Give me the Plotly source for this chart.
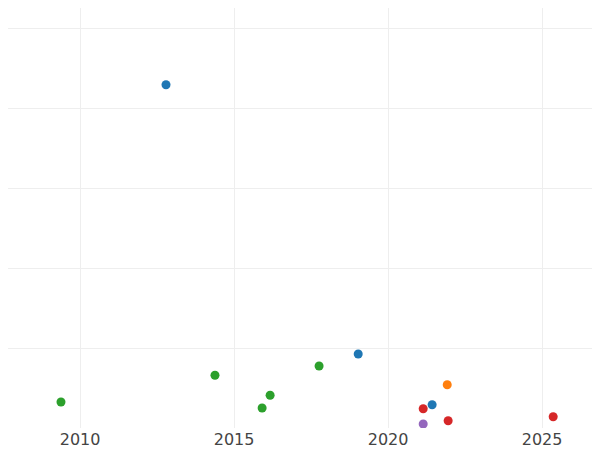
import plotly.graph_objects as go

series_names = ["A", "B", "C", "D", "E"]
colors = ["#1f77b4", "#ff7f0e", "#2ca02c", "#d62728", "#9467bd"]
xs = [
    [2012.79, 2019.03, 2021.43],
    [2021.92],
    [2009.38, 2014.38, 2015.91, 2016.17, 2017.76],
    [2021.14, 2021.95, 2025.36],
    [2021.14],
]
ys = [
    [4.29, 0.925, 0.29],
    [0.54],
    [0.325, 0.66, 0.25, 0.41, 0.775],
    [0.24, 0.09, 0.14],
    [0.05],
]

fig = go.Figure()
for n, c, x, y in zip(series_names, colors, xs, ys):
    fig.add_trace(go.Scatter(x=x, y=y, mode="markers", name=n,
                             marker=dict(color=c, size=9)))

fig.update_layout(
    width=592, height=442, showlegend=False,
    margin=dict(l=0, r=0, t=0, b=22),
    plot_bgcolor="white", paper_bgcolor="white",
    font=dict(family="DejaVu Sans", size=16, color="#444"),
)
fig.update_xaxes(range=[2007.66, 2026.88], tickvals=[2010, 2015, 2020, 2025],
                 showgrid=True, gridcolor="#eeeeee", zeroline=False, ticks="")
fig.update_yaxes(range=[0, 5.25], dtick=1, showticklabels=False,
                 showgrid=True, gridcolor="#eeeeee", zeroline=False)
fig.write_html("out.html")
